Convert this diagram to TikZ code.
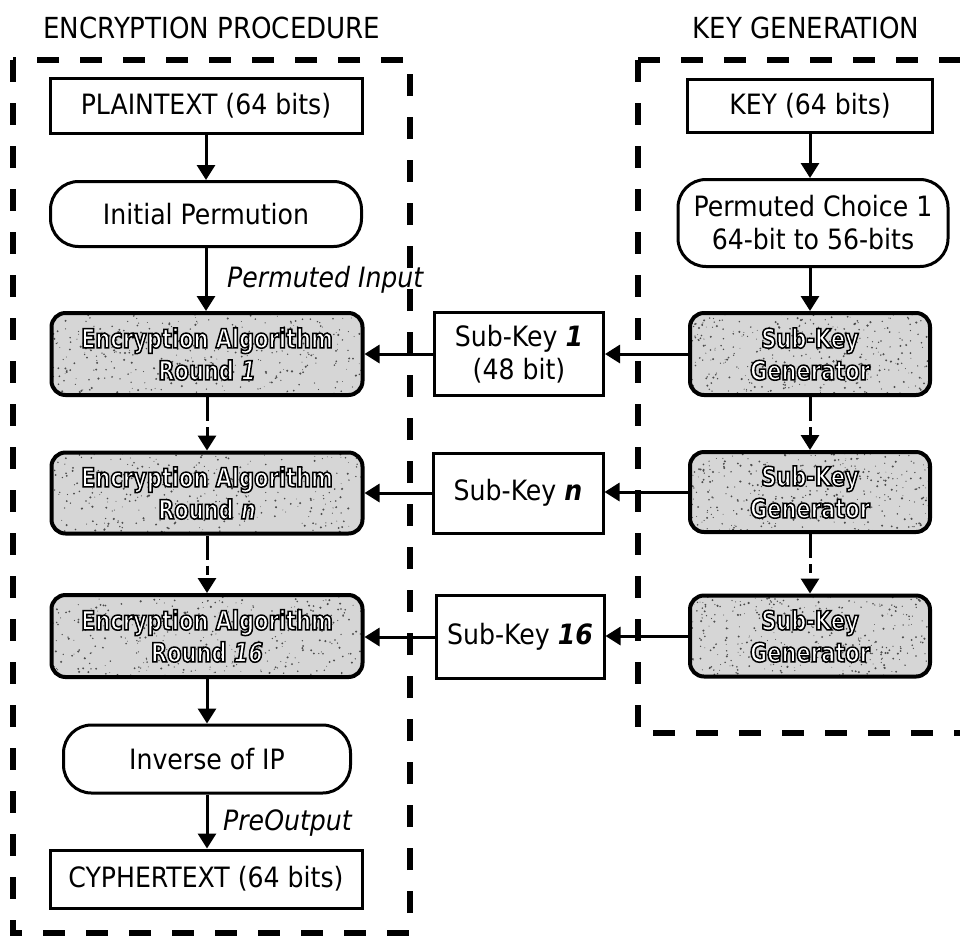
\documentclass[tikz,border=0pt]{standalone}
\usepackage{fontspec}
\IfFontExistsTF{DejaVu Sans Condensed}
  {\setmainfont{DejaVu Sans Condensed}
   \newfontfamily\grainface{DejaVu Sans Condensed}[FakeStretch=0.88]}
  {\setmainfont{DejaVu Sans}[FakeStretch=0.9]
   \newfontfamily\grainface{DejaVu Sans}[FakeStretch=0.79]}
\usetikzlibrary{arrows.meta,calc}

\newcommand\labelfont{\fontsize{28}{33}\selectfont}
\newcommand\grainfont{\grainface\bfseries\fontsize{26.5}{32}\selectfont}
\newcommand\hl[1]{\textbf{\textit{#1}}}
% white letters with a black stroked outline (text render mode 2)
\newcommand\cw[1]{\special{pdf:literal direct 2 Tr 0 0 0 RG 1.5 w}#1\special{pdf:literal direct 0 Tr}}

\tikzset{
  frame/.style={line width=6pt, dash pattern=on 22pt off 21pt},
  plainbox/.style={draw, line width=3pt, inner sep=0pt, align=center,
    font=\labelfont, minimum width=312pt, minimum height=55pt},
  roundbox/.style={plainbox, rounded corners=28pt},
  grainbox/.style={draw, line width=4pt, rounded corners=14pt, fill=black!16,
    inner sep=0pt, align=center, font=\grainfont, text=white,
    minimum height=82pt,
    path picture={
      \path (path picture bounding box.south west) coordinate (grainA)
            (path picture bounding box.north east) coordinate (grainB);
      \foreach \k in {1,...,360}{
        \fill[black!70] let \p1=(grainA), \p2=(grainB) in
          ({\x1+rnd*(\x2-\x1)},{\y1+rnd*(\y2-\y1)}) circle[radius={0.4pt+0.8pt*rnd}];
      }
    }},
  flow/.style={line width=3pt, -{Triangle[length=15pt,width=18pt]}},
  skipflow/.style={flow, dash pattern=on 24pt off 6pt on 9pt off 6pt},
  note/.style={font=\labelfont\itshape, inner sep=0pt, anchor=west},
  heading/.style={font=\fontsize{29}{33}\selectfont, inner sep=0pt}
}

\begin{document}
\pgfmathsetseed{11}
\begin{tikzpicture}[x=1pt, y=-1pt]
\useasboundingbox (0,0) rectangle (960,938);

% section frames
\draw[frame] (13,60) rectangle (410,933);
\begin{scope}
  \clip (0,0) rectangle (960,938);
  \draw[frame] (638,60) -- (1000,60);
  \draw[frame] (638,60) -- (638,733) -- (1000,733);
\end{scope}

% headings
\node[heading] (t1) at (212,28) {ENCRYPTION PROCEDURE};
\node[heading] (t2) at (806,28) {KEY GENERATION};

% encryption column
\node[plainbox] (plain) at (206,106) {PLAINTEXT (64 bits)};
\node[roundbox, minimum width=311pt, minimum height=65pt] (ip) at (206,214) {Initial Permution};
\node[grainbox, minimum width=311pt] (r1) at (207,354)
  {\cw{Encryption Algorithm}\\\cw{Round \hl{1}}};
\node[grainbox, minimum width=311pt, minimum height=81pt] (rn) at (207,493)
  {\cw{Encryption Algorithm}\\\cw{Round \hl{n}}};
\node[grainbox, minimum width=311pt] (r16) at (207,636)
  {\cw{Encryption Algorithm}\\\cw{Round \hl{16}}};
\node[roundbox, minimum width=287pt, minimum height=68pt] (inv) at (207,759) {Inverse of IP};
\node[plainbox, minimum height=58pt] (cipher) at (206,879) {CYPHERTEXT (64 bits)};

% key column
\node[plainbox, minimum width=245pt, minimum height=53pt] (key) at (810,106) {KEY (64 bits)};
\node[roundbox, minimum width=270pt, minimum height=87pt] (pc1) at (813,223)
  {Permuted Choice 1\\64-bit to 56-bits};
\node[grainbox, minimum width=240pt] (g1) at (810,354) {\cw{Sub-Key}\\\cw{Generator}};
\node[grainbox, minimum width=240pt, minimum height=80pt] (g2) at (810,492) {\cw{Sub-Key}\\\cw{Generator}};
\node[grainbox, minimum width=240pt, minimum height=81pt] (g3) at (810,636) {\cw{Sub-Key}\\\cw{Generator}};

% sub-keys
\node[plainbox, minimum width=169pt, minimum height=83pt] (k1) at (519,354) {Sub-Key \hl{1}\\(48 bit)};
\node[plainbox, minimum width=170pt, minimum height=80pt] (kn) at (518,493) {Sub-Key \hl{n}};
\node[plainbox, minimum width=168pt, minimum height=83pt] (k16) at (520,637) {Sub-Key \hl{16}};

% vertical flow, encryption
\draw[flow] (plain.south) -- (plain.south |- ip.north);
\draw[flow] (ip.south) -- (ip.south |- r1.north);
\draw[skipflow] (r1.south) -- (r1.south |- rn.north);
\draw[skipflow] (rn.south) -- (rn.south |- r16.north);
\draw[flow] (r16.south) -- (r16.south |- inv.north);
\draw[flow] (inv.south) -- (inv.south |- cipher.north);

% vertical flow, key schedule
\draw[flow] (key.south) -- (key.south |- pc1.north);
\draw[flow] (pc1.south -| g1.north) -- (g1.north);
\draw[skipflow] (g1.south) -- (g2.north);
\draw[skipflow] (g2.south) -- (g3.north);

% sub-key hand-over
\draw[flow] (g1.west) -- (k1.east);
\draw[flow] (k1.west) -- (r1.east);
\draw[flow] (g2.west) -- (kn.east |- g2.west);
\draw[flow] (kn.west) -- (rn.east |- kn.west);
\draw[flow] (g3.west) -- (k16.east |- g3.west);
\draw[flow] (k16.west) -- (r16.east |- k16.west);

% data labels
\node[note] (pin) at (227,280) {Permuted Input};
\node[note] (pout) at (223,823) {PreOutput};
\end{tikzpicture}
\end{document}
